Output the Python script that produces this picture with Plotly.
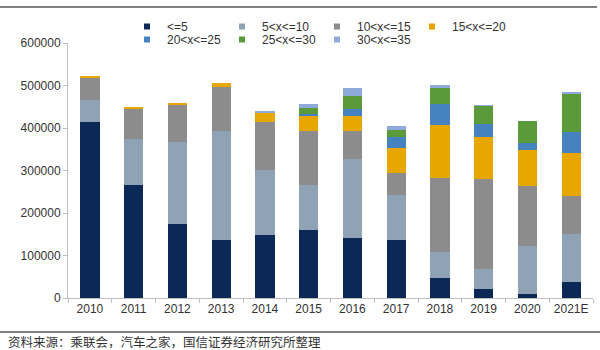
import plotly.graph_objects as go

years = ["2010", "2011", "2012", "2013", "2014", "2015", "2016", "2017", "2018", "2019", "2020", "2021E"]
series_names = ["<=5", "5<x<=10", "10<x<=15", "15<x<=20", "20<x<=25", "25<x<=30", "30<x<=35"]

le5 =      [413000, 266000, 173000, 136000, 149000, 159000, 142000, 136000, 47500, 21600, 10600, 37000]
r5_10 =    [53000, 108000, 193000, 258000, 153000, 107000, 184000, 107000, 60000, 47000, 111000, 114600]
r10_15 =   [51700, 71000, 89000, 103000, 112000, 126000, 68000, 51000, 176000, 212000, 141000, 89000]
r15_20 =   [3500, 4000, 2000, 9000, 23000, 37000, 34000, 60000, 123000, 98000, 86000, 100000]
r20_25 =   [0, 0, 0, 0, 0, 3000, 16000, 25500, 49500, 32000, 16000, 51000]
r25_30 =   [0, 0, 0, 0, 0, 16000, 31000, 16000, 37500, 42000, 52000, 89000]
r30_35 =   [0, 0, 0, 0, 2000, 8000, 20000, 10000, 8000, 1000, 0, 5000]

all_series = [le5, r5_10, r10_15, r15_20, r20_25, r25_30, r30_35]
colors = ["#0b2857", "#8fa2b6", "#8c8c8c", "#e8a600", "#4682c0", "#5b9a3a", "#8eaadc"]

W, H = 600, 350
L, R, T, B = 68, 7, 43, 52
PW, PH = W - L - R, H - T - B

def px(x):
    return (x - L) / PW

def py(y):
    return (H - B - y) / PH

fig = go.Figure()
for name, vals, col in zip(series_names, all_series, colors):
    fig.add_trace(go.Bar(x=years, y=vals, name=name, marker=dict(color=col, line=dict(width=0)),
                         showlegend=False))
for i, (name, col) in enumerate(zip(series_names, colors)):
    fig.add_trace(go.Scatter(x=[None], y=[None], mode="markers", name=name,
                             legend="legend" if i < 4 else "legend2",
                             marker=dict(symbol="square", size=6, color=col)))

leg_common = dict(orientation="h", xanchor="left", yanchor="top",
                  entrywidth=50, entrywidthmode="pixels", tracegroupgap=0,
                  font=dict(size=12, color="#333333"), bgcolor="rgba(0,0,0,0)",
                  itemwidth=30, traceorder="normal")

fig.update_layout(
    width=W, height=H,
    margin=dict(l=L, r=R, t=T, b=B),
    paper_bgcolor="white", plot_bgcolor="white",
    barmode="stack", bargap=0.56,
    font=dict(family="Liberation Sans, Arial, sans-serif", size=12, color="#333333"),
    legend=dict(x=px(127), y=py(12), **leg_common),
    legend2=dict(x=px(127), y=py(25), **leg_common),
    xaxis=dict(showline=True, linecolor="#bfbfbf", linewidth=1, ticks="outside",
               tickson="boundaries", ticklen=4, tickcolor="#bfbfbf", showgrid=False,
               tickangle=0, tickfont=dict(size=12, color="#333333")),
    yaxis=dict(range=[0, 600000], dtick=100000, tickformat="d", showline=True,
               linecolor="#bfbfbf", linewidth=1, ticks="outside", ticklen=4,
               tickcolor="#bfbfbf", showgrid=False, zeroline=False,
               tickfont=dict(size=12, color="#333333")),
    shapes=[
        dict(type="line", xref="paper", yref="paper", x0=px(0), x1=px(597), y0=py(7), y1=py(7),
             line=dict(color="#7f7f7f", width=2)),
        dict(type="line", xref="paper", yref="paper", x0=px(0), x1=px(600), y0=py(332), y1=py(332),
             line=dict(color="#7f7f7f", width=2)),
    ],
    annotations=[
        dict(text="资料来源：乘联会，汽车之家，国信证券经济研究所整理", xref="paper", yref="paper",
             x=px(6), y=py(341), xanchor="left", yanchor="middle", showarrow=False,
             font=dict(family="Noto Sans CJK SC", size=12.5, color="#333333")),
    ],
)

fig.write_html("out.html")
